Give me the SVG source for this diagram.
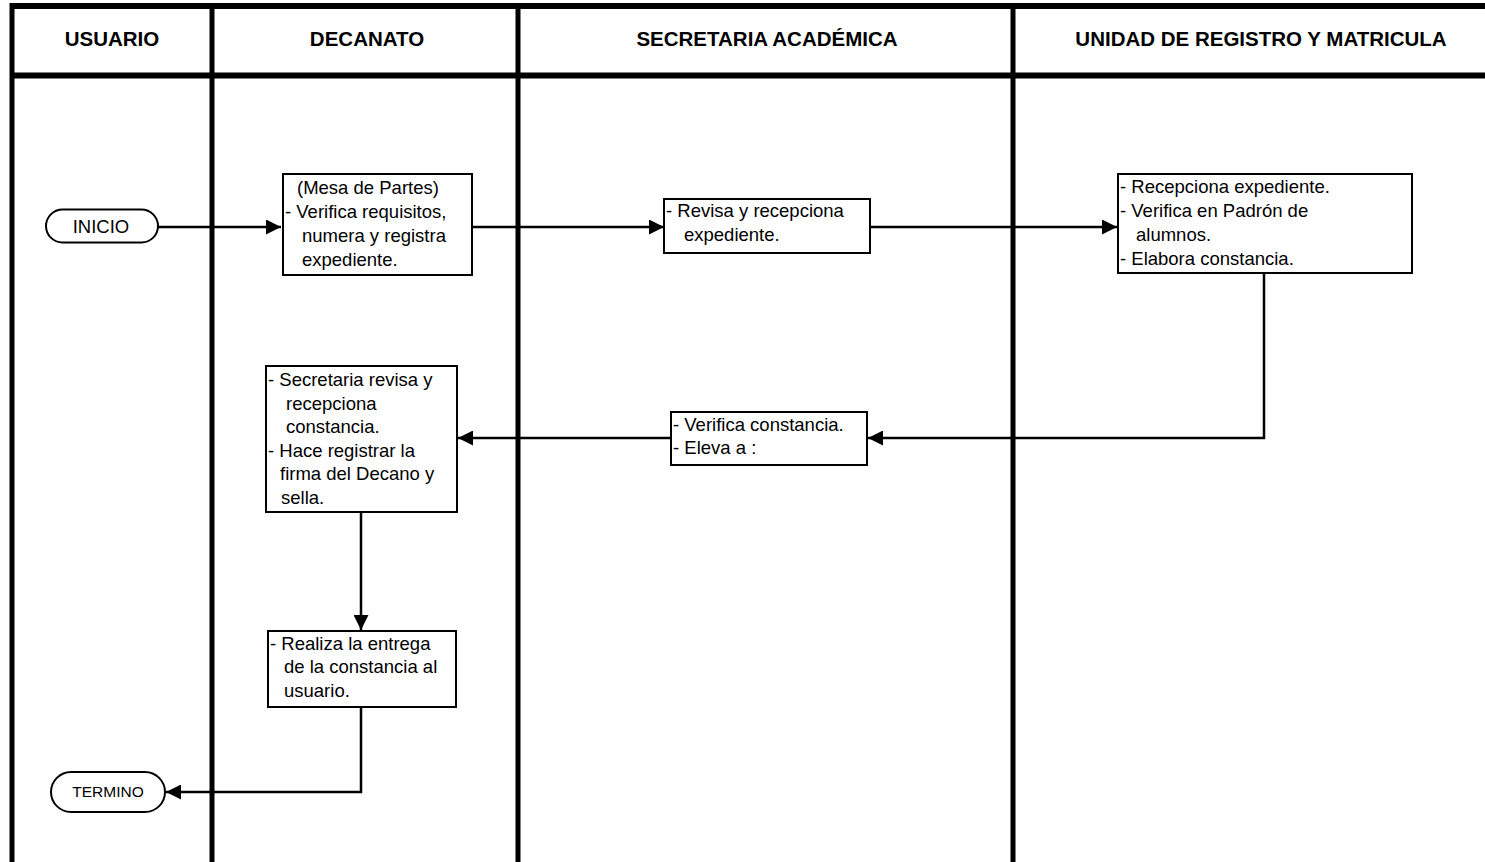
<svg xmlns="http://www.w3.org/2000/svg" width="1485" height="862" viewBox="0 0 1485 862">
<style>
.lane{stroke:#000;stroke-width:5;fill:none}
.hdr{font-family:"Liberation Sans",Arial,sans-serif;font-weight:bold;font-size:20.5px;text-anchor:middle;fill:#000}
.box{fill:#fff;stroke:#000;stroke-width:2}
.t{font-family:"Liberation Sans",Arial,sans-serif;font-size:18.5px;fill:#000}
.term{font-family:"Liberation Sans",Arial,sans-serif;text-anchor:middle;fill:#000}
.con{stroke:#000;stroke-width:2.5;fill:none}
</style>
<defs>
<marker id="ah" viewBox="0 0 10 10" refX="10" refY="5" markerWidth="6" markerHeight="6" markerUnits="strokeWidth" orient="auto">
<path d="M0,0 L10,5 L0,10 Z" fill="#000"/>
</marker>
</defs>
<rect width="1485" height="862" fill="#fff"/>
<g id="lanes">
<line class="lane" x1="12" y1="6" x2="1485" y2="6" style="stroke-width:6"/>
<line class="lane" x1="12" y1="75.5" x2="1485" y2="75.5" style="stroke-width:6"/>
<line class="lane" x1="12" y1="3" x2="12" y2="862"/>
<line class="lane" x1="212" y1="3" x2="212" y2="862"/>
<line class="lane" x1="518" y1="3" x2="518" y2="862"/>
<line class="lane" x1="1013" y1="3" x2="1013" y2="862"/>
<text class="hdr" x="112" y="46">USUARIO</text>
<text class="hdr" x="367" y="46">DECANATO</text>
<text class="hdr" x="767" y="46">SECRETARIA ACADÉMICA</text>
<text class="hdr" x="1261" y="46">UNIDAD DE REGISTRO Y MATRICULA</text>
</g>
<g id="connectors">
<path class="con" d="M158,227 L281,227" marker-end="url(#ah)"/>
<path class="con" d="M472,227 L664,227" marker-end="url(#ah)"/>
<path class="con" d="M870,227 L1117,227" marker-end="url(#ah)"/>
<path class="con" d="M1264,274 L1264,438 L868,438" marker-end="url(#ah)"/>
<path class="con" d="M671,438 L458,438" marker-end="url(#ah)"/>
<path class="con" d="M361,512 L361,630" marker-end="url(#ah)"/>
<path class="con" d="M361,707 L361,792 L166,792" marker-end="url(#ah)"/>
</g>
<g id="inicio">
<rect class="box" x="46" y="209.5" width="112" height="33" rx="16.5"/>
<text class="term" x="101" y="233" font-size="18.5">INICIO</text>
</g>
<g id="mesa-partes">
<rect class="box" x="283" y="174" width="189" height="101"/>
<text class="t" x="297" y="194">(Mesa de Partes)</text>
<text class="t" x="285" y="218">- Verifica requisitos,</text>
<text class="t" x="302" y="242">numera y registra</text>
<text class="t" x="302" y="266">expediente.</text>
</g>
<g id="revisa">
<rect class="box" x="664" y="199" width="206" height="54"/>
<text class="t" x="666" y="217">- Revisa y recepciona</text>
<text class="t" x="684" y="241">expediente.</text>
</g>
<g id="recepciona">
<rect class="box" x="1118" y="174" width="294" height="99"/>
<text class="t" x="1120" y="193">- Recepciona expediente.</text>
<text class="t" x="1120" y="217">- Verifica en Padrón de</text>
<text class="t" x="1136" y="241">alumnos.</text>
<text class="t" x="1120" y="265">- Elabora constancia.</text>
</g>
<g id="verifica">
<rect class="box" x="671" y="412" width="196" height="53"/>
<text class="t" x="673" y="431">- Verifica constancia.</text>
<text class="t" x="673" y="454">- Eleva a :</text>
</g>
<g id="secretaria">
<rect class="box" x="266" y="366" width="191" height="146"/>
<text class="t" x="268" y="386">- Secretaria revisa y</text>
<text class="t" x="286" y="410">recepciona</text>
<text class="t" x="286" y="433">constancia.</text>
<text class="t" x="268" y="457">- Hace registrar la</text>
<text class="t" x="280" y="480">firma del Decano y</text>
<text class="t" x="281" y="504">sella.</text>
</g>
<g id="entrega">
<rect class="box" x="268" y="631" width="188" height="76"/>
<text class="t" x="270" y="650">- Realiza la entrega</text>
<text class="t" x="284" y="673">de la constancia al</text>
<text class="t" x="284" y="697">usuario.</text>
</g>
<g id="termino">
<rect class="box" x="51" y="772" width="114" height="40" rx="20"/>
<text class="term" x="108" y="797" font-size="15.5">TERMINO</text>
</g>
</svg>
